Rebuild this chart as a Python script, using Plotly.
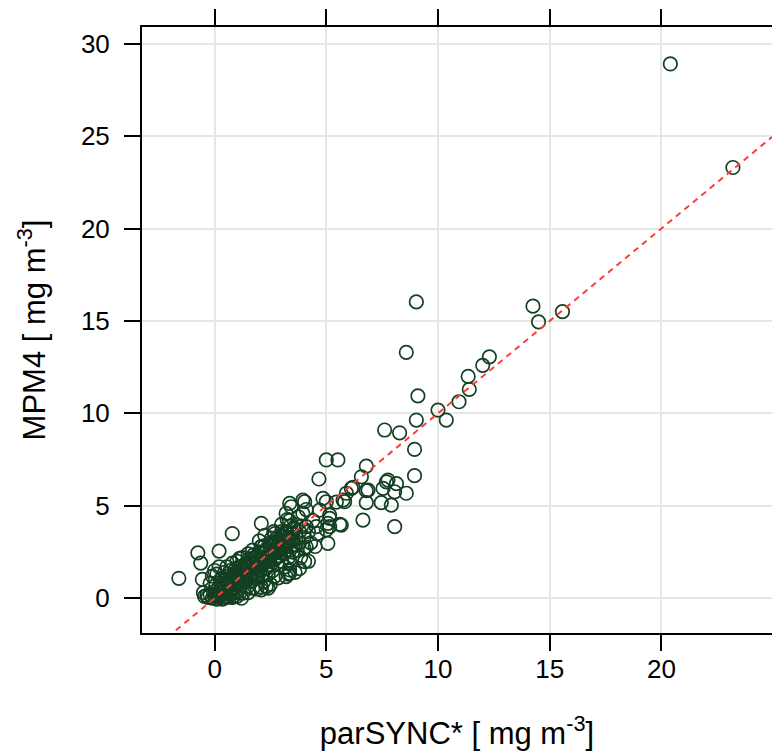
import plotly.graph_objects as go

# ---- data ----
# high / outlying points
high_x = [20.4, 23.2, 14.25, 14.5, 15.57, 12.3, 12.0, 11.35, 11.4, 10.94,
          10.0, 10.37, 9.03, 8.58, 9.1, 9.03, 7.61, 8.28, 8.95, 8.95]
high_y = [28.9, 23.3, 15.8, 14.95, 15.5, 13.06, 12.6, 12.0, 11.3, 10.63,
          10.18, 9.64, 16.03, 13.3, 10.95, 9.64, 9.1, 8.95, 8.05, 6.63]

# middle range points
mid_x = [5.0, 5.52, 6.79, 4.67, 6.57, 6.12, 5.9, 6.79, 7.76, 8.14,
         7.54, 8.06, 8.58, 7.91, 7.46, 6.79, 6.64, 8.06, 5.82, 5.0,
         4.03, 4.7, 5.15, 4.55, 5.15, 5.67, 3.95, 4.1, 6.19, 5.75,
         6.87, 7.69, 5.07, 4.03, 3.95, 3.43, 3.2, 5.15, 4.85, 3.36,
         5.07, 3.36, 3.2, 2.31, 1.71, 1.27, 1.94, 2.09, 1.12, 0.82,
         2.5, 3.36, 5.6, 5.0, 4.1, 5.45, 2.1, 2.4]
mid_y = [7.48, 7.48, 7.15, 6.45, 6.57, 5.94, 5.68, 5.82, 6.39, 6.2,
         5.94, 5.76, 5.68, 5.04, 5.17, 5.17, 4.23, 3.87, 5.22, 5.22,
         5.22, 4.77, 4.5, 3.87, 3.87, 3.96, 4.59, 3.87, 6.0, 5.31,
         5.85, 6.3, 2.97, 1.98, 5.31, 4.95, 4.59, 4.32, 5.4, 5.13,
         4.05, 1.53, 1.17, 0.63, 0.54, 0.27, 1.17, 0.45, 0.27, 0.09,
         0.75, 1.35, 4.0, 3.7, 2.77, 5.2, 0.6, 0.55]

# low, left-hand points
left_x = [0.79, -0.75, 0.2, -0.62, -1.6, -0.55, 1.12, 2.09,
          0.05, 0.1, 0.15, 0.2, 0.25, 0.0, -0.2, -0.1]
left_y = [3.5, 2.45, 2.55, 1.9, 1.08, 1.02, 2.16, 4.05,
          0.7, 1.3, 0.5, 1.7, 1.0, 1.5, 0.8, 1.2]

# blob near zero
zero_x = [-0.3, -0.1, 0.0, 0.1, 0.2, 0.3, 0.4, 0.5, 0.6, 0.7, -0.2, 0.05,
          0.25, 0.45, 0.8, 1.0, -0.35, 0.15, 0.35, 0.55, 0.9, 1.2, 0.65, -0.05,
          -0.45, -0.5]
zero_y = [0.05, 0.0, 0.1, -0.05, 0.05, 0.15, 0.0, 0.1, 0.05, 0.2, 0.2, 0.25,
          0.3, 0.35, 0.05, 0.1, 0.15, 0.15, -0.05, 0.25, 0.3, 0.0, 0.4, 0.35,
          0.1, 0.3]

# dense band (0 - 4.6)
band_x = [0.3, 0.35, 0.4, 0.45, 0.5, 0.5, 0.55, 0.6, 0.6, 0.65, 0.7, 0.7,
          0.75, 0.8, 0.8, 0.85, 0.9, 0.9, 0.95, 1.0, 1.0, 1.0,
          1.05, 1.1, 1.1, 1.15, 1.2, 1.2, 1.25, 1.3, 1.3, 1.35, 1.4, 1.4,
          1.45, 1.5, 1.5, 1.55, 1.6, 1.6, 1.65, 1.7, 1.7, 1.75, 1.8, 1.8,
          1.85, 1.9, 1.9, 1.95, 2.0, 2.0, 2.0,
          2.05, 2.1, 2.1, 2.15, 2.2, 2.2, 2.25, 2.3, 2.3, 2.35, 2.4, 2.4,
          2.45, 2.5, 2.5, 2.55, 2.6, 2.6, 2.65, 2.7, 2.7, 2.75, 2.8, 2.8,
          2.85, 2.9, 2.9, 2.95, 3.0, 3.0, 3.0,
          3.05, 3.1, 3.1, 3.15, 3.2, 3.2, 3.25, 3.3, 3.3, 3.35, 3.4, 3.4,
          3.45, 3.5, 3.5, 3.55, 3.6, 3.6, 3.65, 3.7, 3.75, 3.8, 3.8, 3.85,
          3.9, 4.0, 4.0, 4.1, 4.2, 4.3, 4.4, 4.5, 4.6,
          1.5, 2.2, 2.7, 1.0, 3.3, 4.2, 3.8]
band_y = [0.6, 1.1, 0.8, 1.4, 0.5, 1.0, 1.7, 0.7, 1.2, 0.9, 1.5, 0.4,
          1.1, 0.8, 1.9, 1.3, 0.6, 1.0, 1.6, 1.2, 0.8, 2.0,
          1.4, 0.9, 1.7, 1.2, 1.5, 0.7, 2.2, 1.0, 1.6, 1.3, 1.9, 1.1,
          0.6, 1.5, 2.4, 1.2, 1.7, 2.0, 0.9, 1.4, 2.6, 1.8, 1.1, 2.2,
          1.6, 2.0, 0.5, 1.3, 1.8, 2.5, 3.1,
          1.5, 2.1, 2.8, 1.2, 1.9, 2.4, 3.4, 1.6, 2.2, 2.7, 1.3, 2.0,
          2.5, 3.0, 1.8, 2.3, 2.8, 1.5, 3.6, 2.1, 2.5, 3.2, 1.9, 2.7,
          1.1, 2.3, 3.0, 2.6, 3.4, 2.0, 4.0,
          2.8, 2.4, 3.1, 1.7, 3.6, 2.6, 3.0, 2.2, 3.3, 4.2, 2.8, 1.9,
          3.5, 3.1, 2.5, 3.8, 2.9, 1.4, 3.3, 2.6, 4.4, 3.0, 3.6, 2.2,
          3.9, 3.3, 2.7, 4.8, 3.6, 3.0, 4.2, 2.8, 3.5,
          0.3, 0.9, 1.2, 0.3, 1.3, 2.0, 1.6]

# solid core of the cloud
core_x = [1.0, 1.1, 1.2, 1.3, 1.4, 1.5, 1.6, 1.7, 1.8, 1.9, 2.0, 2.1, 2.2,
          2.3, 2.4, 2.5, 2.6, 2.7, 2.8, 2.9, 3.0, 3.1, 3.2, 3.3, 3.4, 3.5,
          1.15, 1.35, 1.55, 1.75, 1.95, 2.15, 2.35, 2.55, 2.75, 2.95, 3.15,
          3.35, 3.55,
          1.25, 1.45, 1.65, 1.85, 2.05, 2.25, 2.45, 2.65, 2.85, 3.05, 3.25,
          3.45, 3.65,
          0.6, 0.75, 0.9, 0.45]
core_y = [1.3, 0.9, 1.7, 0.9, 1.5, 2.1, 1.3, 1.9, 1.3, 2.3, 2.0, 2.8, 2.0,
          2.6, 1.8, 3.0, 2.5, 3.5, 2.5, 3.1, 3.6, 2.7, 3.5, 3.1, 3.9, 3.5,
          1.05, 1.75, 1.25, 2.35, 1.75, 2.45, 1.95, 3.25, 2.75, 2.45, 3.55,
          3.05, 3.75,
          1.45, 1.05, 2.15, 1.85, 1.75, 2.85, 2.35, 3.05, 2.25, 3.35, 4.25,
          3.25, 3.95,
          0.9, 0.5, 1.3, 0.7]

x_range = [-3.25, 24.95]
y_range = [-1.88, 30.9]
x_ticks = [0, 5, 10, 15, 20]
y_ticks = [0, 5, 10, 15, 20, 25, 30]

xs = high_x + mid_x + left_x + zero_x + band_x + core_x
ys = high_y + mid_y + left_y + zero_y + band_y + core_y

font_family = "Liberation Sans, Arial, sans-serif"

fig = go.Figure()
fig.add_trace(go.Scatter(
    x=xs, y=ys, mode="markers",
    marker=dict(symbol="circle-open", size=13.5, color="#133f22",
                line=dict(width=1.7)),
    showlegend=False, hoverinfo="skip",
))
# 1:1 reference line across the whole x range
fig.add_trace(go.Scatter(
    x=x_range, y=x_range, mode="lines",
    line=dict(color="#ff3c3c", width=2, dash="6px,5px"),
    showlegend=False, hoverinfo="skip",
))

axis_common = dict(
    showline=True, linecolor="black", linewidth=2, mirror="ticks",
    ticks="outside", ticklen=16, tickwidth=2, tickcolor="black",
    showgrid=True, gridcolor="#e6e6e6", gridwidth=1.5, zeroline=False,
    tickfont=dict(family=font_family, size=26, color="black"),
    automargin=False,
)

fig.update_xaxes(
    range=x_range, tickvals=x_ticks, ticktext=[str(v) for v in x_ticks],
    title=dict(text="parSYNC* [ mg m<sup>-3</sup>]",
               font=dict(family=font_family, size=31, color="black"),
               standoff=39),
    ticklabelstandoff=-4,
    **axis_common,
)
fig.update_yaxes(
    range=y_range, tickvals=y_ticks, ticktext=[str(v) for v in y_ticks],
    title=dict(text="MPM4 [ mg m<sup>-3</sup>]",
               font=dict(family=font_family, size=31, color="black"),
               standoff=26),
    ticklabelstandoff=9,
    **axis_common,
)

# the page body adds an 8px offset, so the margins are shifted accordingly
fig.update_layout(
    width=780, height=751,
    margin=dict(l=134, r=16, t=19, b=126),
    paper_bgcolor="white", plot_bgcolor="white",
)

fig.write_html("out.html")
